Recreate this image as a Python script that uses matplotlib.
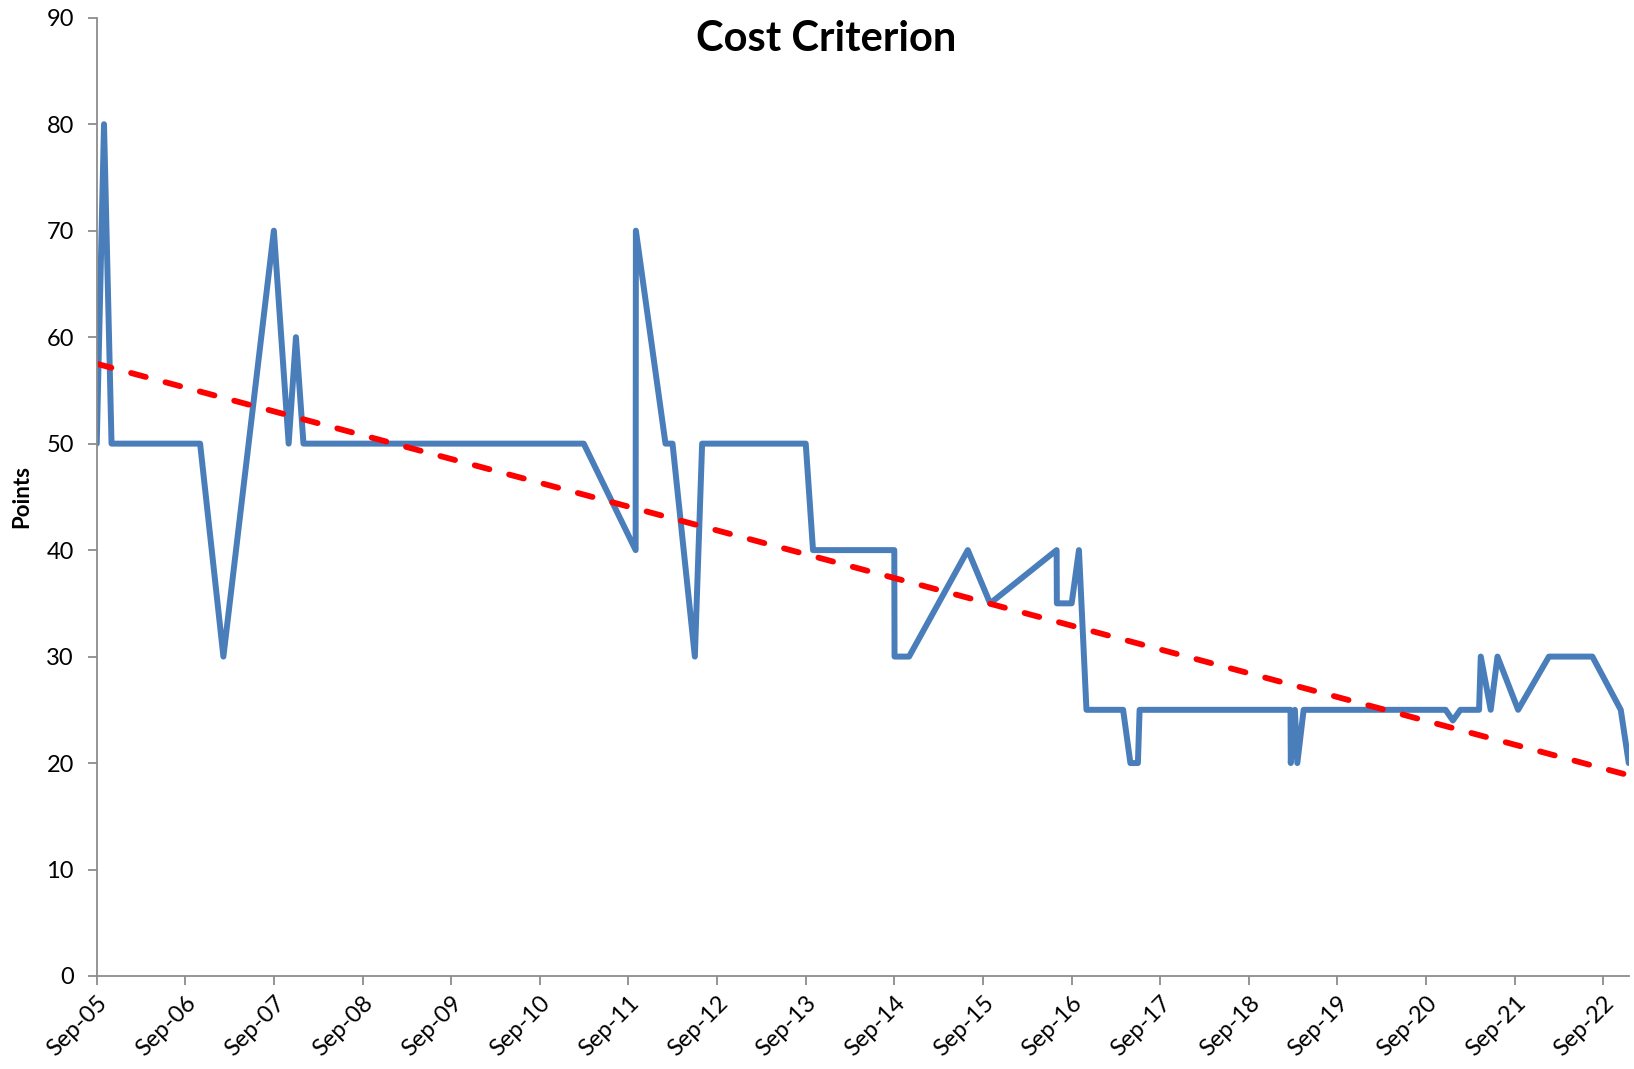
import numpy as np
import pandas as pd
import matplotlib
matplotlib.use("Agg")
import matplotlib.pyplot as plt
import matplotlib.dates as mdates

plt.rcParams['font.family'] = ['Lato', 'DejaVu Sans']

# data
dates = ["2005-09-01", "2005-10-01", "2005-11-01", "2006-11-01", "2007-02-05",
         "2007-09-01", "2007-11-01", "2007-12-01", "2008-01-01", "2011-03-01",
         "2011-10-01", "2011-10-02", "2012-02-01", "2012-03-01", "2012-06-01",
         "2012-07-01", "2013-09-01", "2013-10-01", "2014-09-01", "2014-09-02",
         "2014-11-01", "2015-07-01", "2015-10-01", "2016-07-01", "2016-07-02",
         "2016-09-01", "2016-10-01", "2016-11-01", "2017-04-01", "2017-05-01",
         "2017-06-01", "2017-06-08", "2019-02-20", "2019-02-21", "2019-03-10",
         "2019-03-20", "2019-04-15", "2020-11-20", "2020-12-20", "2021-01-20",
         "2021-04-07", "2021-04-14", "2021-05-25", "2021-06-22", "2021-09-15",
         "2022-01-20", "2022-07-18", "2022-11-12", "2022-12-15"]
points = [50, 80, 50, 50, 30,
          70, 50, 60, 50, 50,
          40, 70, 50, 50, 30,
          50, 50, 40, 40, 30,
          30, 40, 35, 40, 35,
          35, 40, 25, 25, 20,
          20, 25, 25, 20, 25,
          20, 25, 25, 24, 25,
          25, 30, 25, 30, 25,
          30, 30, 25, 20]

# trend line end values (linear trend as drawn)
trend_dates = ["2005-09-01", "2022-12-15"]
trend_vals = [57.5, 18.85]

x = pd.to_datetime(dates)
xt = pd.to_datetime(trend_dates)

fig = plt.figure(figsize=(16.34, 10.69), dpi=100)
ax = fig.add_axes([0.0592, 0.087, 0.9376, 0.8964])

ax.plot(x, points, '-', color='#4A7EBB', lw=4.3, solid_joinstyle='round', solid_capstyle='round')
ax.plot(xt, trend_vals, color='#FF0000', lw=4.2, linestyle=(0, (2.6, 3.5)), dash_capstyle='round')

ax.set_ylim(0, 90)
ax.set_yticks(np.arange(0, 91, 10))
ax.set_xlim(x[0], x[-1])
ax.xaxis.set_major_locator(mdates.MonthLocator(bymonth=9, bymonthday=1))
ax.xaxis.set_major_formatter(mdates.DateFormatter('%b-%y'))

for s in ['top', 'right']:
    ax.spines[s].set_visible(False)
for s in ['left', 'bottom']:
    ax.spines[s].set_color('#8C8C8C')
    ax.spines[s].set_linewidth(1.3)
ax.tick_params(axis='both', direction='out', length=6.5, width=1.3, color='#8C8C8C', labelsize=17)
ax.tick_params(axis='y', pad=10)
ax.tick_params(axis='x', pad=5)
plt.setp(ax.get_xticklabels(), rotation=45, ha='right', va='top', rotation_mode='anchor')

ax.set_ylabel('Points', fontsize=16, fontweight='bold', va='center')
ax.yaxis.set_label_coords(-0.049, 0.5)
fig.text(0.5055, 0.9635, 'Cost Criterion', ha='center', va='center', fontsize=30, fontweight='bold')

fig.savefig('out.png', dpi=100)
